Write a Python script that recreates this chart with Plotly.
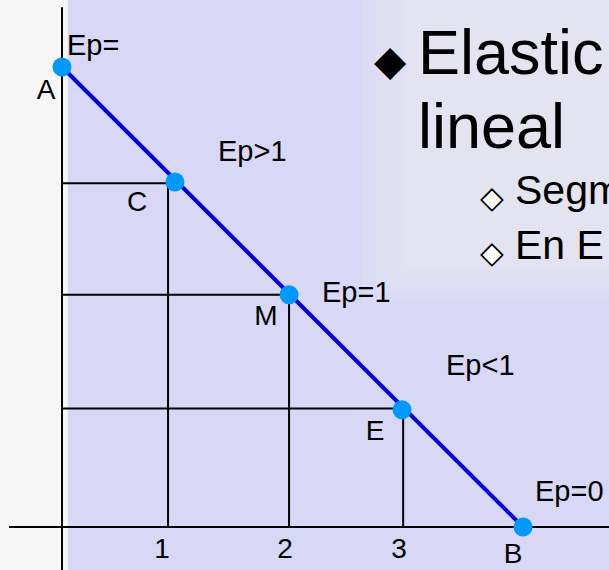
import plotly.graph_objects as go

# Points on the linear demand curve (quantity, price)
pt_names = ['A', 'C', 'M', 'E', 'B']
pt_q = [0.0, 0.98, 1.97, 2.95, 4.0]
pt_p = [4.0, 3.0, 2.02, 1.02, 0.0]

# Guide lines to the axes for C, M and E
guide_q = [0.92, 1.97, 2.96]
guide_p = [2.99, 2.02, 1.03]

# Axis tick labels
tick_q = [0.868, 1.935, 2.924]
tick_text = ['1', '2', '3']

# Elasticity labels along the curve
ep_text = ['Ep=', 'Ep>1', 'Ep=1', 'Ep<1', 'Ep=0']
ep_q = [0.03, 1.34, 2.24, 3.31, 4.09]
ep_p = [4.19, 3.27, 2.04, 1.41, 0.31]

# Point letters
lab_q = [-0.139, 0.651, 1.77, 2.716, 3.913]
lab_p = [3.78, 2.81, 1.82, 0.817, -0.252]

# Slide bullet text (top right)
title_lines = ['Elastic', 'lineal']
bullet_lines = ['Segm', 'En E']

# Axis extents
x_min, x_max = -0.538, 4.746
y_min, y_max = -0.374, 4.583

FONT = 'Liberation Sans, Arial, sans-serif'

fig = go.Figure()

# lavender slide texture behind the drawing
fig.add_shape(type='rect', x0=0.05, x1=x_max, y0=y_min, y1=y_max,
              fillcolor='#d8d8f6', line=dict(width=0), layer='below')
# lighter, greyer patch behind the slide text (soft edges via stacked rects)
for i in range(5):
    fig.add_shape(type='rect', x0=2.6 + 0.12 * i, x1=x_max, y0=1.95 + 0.1 * i, y1=y_max,
                  fillcolor='rgba(238,238,242,0.14)', line=dict(width=0), layer='below')

# guide lines
gx, gy = [], []
for q, p in zip(guide_q, guide_p):
    gx += [0, q, None, q, q, None]
    gy += [p, p, None, p, 0, None]
fig.add_trace(go.Scatter(x=gx, y=gy, mode='lines',
                         line=dict(color='black', width=2),
                         hoverinfo='skip', showlegend=False))

# axes
fig.add_trace(go.Scatter(x=[0, 0, None, -0.46, x_max], y=[y_min, 4.52, None, 0, 0],
                         mode='lines', line=dict(color='black', width=2),
                         hoverinfo='skip', showlegend=False))

# demand line
fig.add_trace(go.Scatter(x=[pt_q[0], pt_q[-1]], y=[pt_p[0], pt_p[-1]], mode='lines',
                         line=dict(color='#0000dd', width=4),
                         hoverinfo='skip', showlegend=False))

# points
fig.add_trace(go.Scatter(x=pt_q, y=pt_p, mode='markers', text=pt_names,
                         marker=dict(color='#0099ff', size=19, line=dict(width=0)),
                         showlegend=False))

# tick labels
fig.add_trace(go.Scatter(x=tick_q, y=[-0.21] * 3, mode='text', text=tick_text,
                         textfont=dict(family=FONT, size=28, color='black'),
                         hoverinfo='skip', showlegend=False))

# point letters
fig.add_trace(go.Scatter(x=lab_q, y=lab_p, mode='text', text=pt_names,
                         textfont=dict(family=FONT, size=28, color='black'),
                         hoverinfo='skip', showlegend=False))

annotations = []
for t, q, p in zip(ep_text, ep_q, ep_p):
    annotations.append(dict(x=q, y=p, text=t, xanchor='left', yanchor='middle',
                            showarrow=False, font=dict(family=FONT, size=29, color='black')))

# slide text on the right
annotations.append(dict(x=2.846, y=4.06, text='◆', xanchor='center', yanchor='middle',
                        showarrow=False, font=dict(family='DejaVu Sans', size=42, color='black')))
for t, p in zip(title_lines, [4.13, 3.49]):
    annotations.append(dict(x=3.07, y=p, text=t, xanchor='left', yanchor='middle',
                            showarrow=False, font=dict(family=FONT, size=63, color='black')))
for t, p in zip(bullet_lines, [2.87, 2.39]):
    annotations.append(dict(x=3.731, y=p, text='◆', xanchor='center', yanchor='middle',
                            showarrow=False, font=dict(family='DejaVu Sans', size=31, color='white')))
    annotations.append(dict(x=3.731, y=p, text='◇', xanchor='center', yanchor='middle',
                            showarrow=False, font=dict(family='DejaVu Sans', size=31, color='black')))
    annotations.append(dict(x=3.91, y=p + 0.06, text=t, xanchor='left', yanchor='middle',
                            showarrow=False, font=dict(family=FONT, size=41, color='black')))

fig.update_layout(
    width=609, height=570,
    margin=dict(l=0, r=0, t=0, b=0),
    paper_bgcolor='#f6f6f6', plot_bgcolor='#f6f6f6',
    xaxis=dict(range=[x_min, x_max], visible=False, fixedrange=True),
    yaxis=dict(range=[y_min, y_max], visible=False, fixedrange=True),
    annotations=annotations,
    showlegend=False,
)

fig.write_html('out.html', config={'displayModeBar': False},
               post_script="document.body.style.margin='0';")
